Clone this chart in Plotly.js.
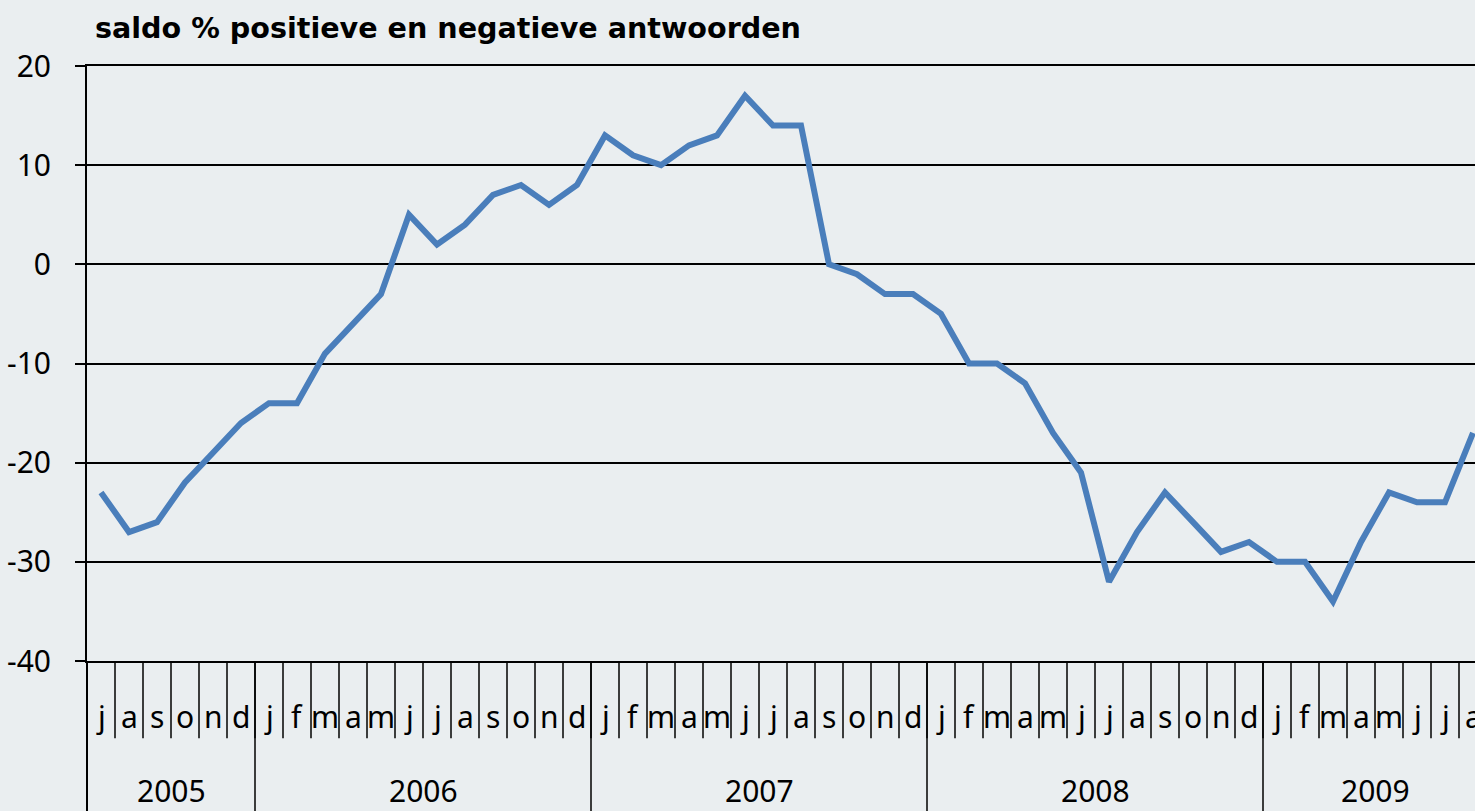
<!DOCTYPE html>
<html>
<head>
<meta charset="utf-8">
<script src="https://cdn.plot.ly/plotly-3.0.1.min.js"></script>
<style>
  html, body { margin: 0; padding: 0; overflow: hidden; background: #eaeef0; }
  #chart { width: 1487px; height: 811px; }
</style>
</head>
<body>
<div id="chart"></div>
<script>
// ------------------------------------------------------------
// Saldo positieve / negatieve antwoorden, jul 2005 - aug 2009
// ------------------------------------------------------------

const monthInitials = ['j', 'f', 'm', 'a', 'm', 'j', 'j', 'a', 's', 'o', 'n', 'd'];
const years = ['2005', '2006', '2007', '2008', '2009'];
const yearFirstMonth = [7, 1, 1, 1, 1];
const yearLastMonth = [12, 12, 12, 12, 8];

// saldo in %, one value per month
const saldo = [
  -23, -27, -26, -22, -19, -16,                    // 2005 jul-dec
  -14, -14, -9, -6, -3, 5, 2, 4, 7, 8, 6, 8,       // 2006
  13, 11, 10, 12, 13, 17, 14, 14, 0, -1, -3, -3,   // 2007
  -5, -10, -10, -12, -17, -21, -32, -27, -23, -26, -29, -28, // 2008
  -30, -30, -34, -28, -23, -24, -24, -17           // 2009 jan-aug
];

const yTicks = [-40, -30, -20, -10, 0, 10, 20];

// build the category keys and the label rows
const periods = [];
const periodMonth = [];
const yearStartIdx = [];
const yearEndIdx = [];
years.forEach((yr, k) => {
  yearStartIdx.push(periods.length);
  for (let m = yearFirstMonth[k]; m <= yearLastMonth[k]; m++) {
    periods.push(`${yr}-${String(m).padStart(2, '0')}`);
    periodMonth.push(monthInitials[m - 1]);
  }
  yearEndIdx.push(periods.length - 1);
});

const labelFont = { family: 'Noto Sans, Liberation Sans, sans-serif', size: 30, color: '#000000' };
const ink = '#000000';

const shapes = [];
// small month dividers below the axis
periods.forEach((p, i) => {
  if (i === 0) return;
  shapes.push({
    type: 'line', xref: 'x', yref: 'paper',
    x0: i - 0.5, x1: i - 0.5, y0: 0, y1: -0.13,
    line: { color: ink, width: 1.5 }
  });
});
// year dividers running to the bottom
yearStartIdx.forEach((s, k) => {
  const first = k === 0;
  shapes.push({
    type: 'line', xref: first ? 'x domain' : 'x', yref: 'paper',
    x0: first ? 0 : s - 0.5, x1: first ? 0 : s - 0.5, y0: 0, y1: -0.3,
    line: { color: ink, width: first ? 2 : 1.5 }
  });
});

const annotations = [];
periods.forEach((p, i) => {
  annotations.push({
    x: p, xref: 'x', y: -0.094, yref: 'paper',
    text: periodMonth[i], showarrow: false,
    xanchor: 'center', yanchor: 'middle', font: labelFont
  });
});
years.forEach((yr, k) => {
  annotations.push({
    x: (yearStartIdx[k] + yearEndIdx[k]) / 2, xref: 'x', y: -0.217, yref: 'paper',
    text: yr, showarrow: false,
    xanchor: 'center', yanchor: 'middle', font: labelFont
  });
});

const traces = [{
  x: periods,
  y: saldo,
  type: 'scatter',
  mode: 'lines',
  line: { color: '#4a7ebb', width: 6 },
  hoverinfo: 'x+y',
  showlegend: false
}];

const layout = {
  width: 1487,
  height: 811,
  margin: { l: 87, r: 0, t: 66, b: 150 },
  paper_bgcolor: '#eaeef0',
  plot_bgcolor: '#eaeef0',
  font: labelFont,
  title: {
    text: 'saldo % positieve en negatieve antwoorden',
    font: { family: 'DejaVu Sans, Verdana, sans-serif', size: 28.6, weight: 'bold', color: ink },
    xref: 'container', x: 95 / 1487, xanchor: 'left',
    yref: 'container', y: 1 - 28 / 811, yanchor: 'middle'
  },
  xaxis: {
    type: 'category',
    categoryorder: 'array',
    categoryarray: periods,
    range: [-0.5, periods.length - 0.5],
    showticklabels: false,
    ticks: '',
    showgrid: false,
    zeroline: false,
    showline: true,
    mirror: true,
    linecolor: ink,
    linewidth: 2,
    fixedrange: true
  },
  yaxis: {
    range: [-40, 20],
    tickvals: yTicks,
    ticktext: yTicks.map(String),
    ticks: 'outside',
    ticklen: 10,
    tickwidth: 2,
    tickcolor: ink,
    ticklabelstandoff: 18,
    tickfont: labelFont,
    showgrid: true,
    gridcolor: ink,
    gridwidth: 2,
    zeroline: false,
    showline: true,
    linecolor: ink,
    linewidth: 2,
    fixedrange: true
  },
  shapes: shapes,
  annotations: annotations,
  hovermode: 'closest'
};

Plotly.newPlot('chart', traces, layout, { displayModeBar: false });
</script>
</body>
</html>
